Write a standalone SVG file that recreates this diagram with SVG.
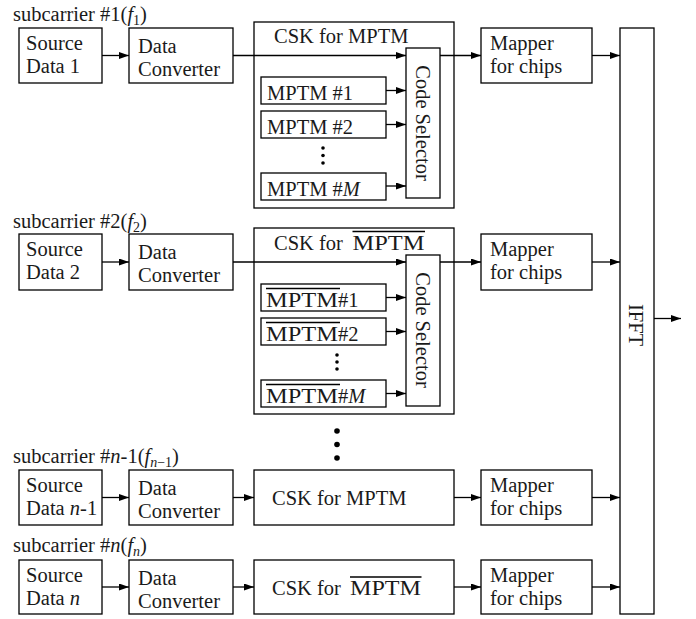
<svg xmlns="http://www.w3.org/2000/svg" width="696" height="619" viewBox="0 0 696 619">
<style>
rect{fill:#fff;stroke:#000;stroke-width:1.3}
text{font-family:"Liberation Serif","Times New Roman",serif;font-size:20.5px;fill:#1a1a1a}
.it{font-style:italic}
.sub{font-size:14px}
.ov{stroke:#000;stroke-width:1.3}
.con line{stroke:#000;stroke-width:1.3;marker-end:url(#ah)}
.dot{fill:#000}
</style>
<defs>
<marker id="ah" markerUnits="userSpaceOnUse" markerWidth="11" markerHeight="8" refX="10" refY="3.5" orient="auto">
<path d="M0,0 L10,3.5 L0,7 z" fill="#000"/>
</marker>
</defs>

<!-- Row 1 -->
<g id="label1"><text x="13" y="21">subcarrier #1(<tspan class="it">f</tspan><tspan class="sub" dy="4">1</tspan><tspan dy="-4">)</tspan></text></g>
<g id="src1"><rect x="19" y="28" width="83" height="55"/><text x="26" y="50">Source</text><text x="26" y="73">Data 1</text></g>
<g id="dc1"><rect x="129" y="28" width="104" height="55"/><text x="138" y="53">Data</text><text x="138" y="76">Converter</text></g>
<g id="csk1"><rect x="254" y="22" width="200" height="186"/><text x="274" y="43">CSK for MPTM</text>
<g id="m1_1"><rect x="261" y="77" width="125" height="27"/><text x="267" y="100">MPTM #1</text></g>
<g id="m1_2"><rect x="261" y="111" width="125" height="27"/><text x="267" y="134">MPTM #2</text></g>
<circle class="dot" cx="323" cy="148" r="1.8"/><circle class="dot" cx="323" cy="155.5" r="1.8"/><circle class="dot" cx="323" cy="163" r="1.8"/>
<g id="m1_M"><rect x="261" y="173" width="125" height="27"/><text x="267" y="196">MPTM #<tspan class="it">M</tspan></text></g>
<g id="cs1"><rect x="406" y="48" width="34" height="150"/><text transform="translate(416,123) rotate(90)" text-anchor="middle">Code Selector</text></g>
</g>
<g id="map1"><rect x="481" y="28" width="111" height="55"/><text x="490" y="50">Mapper</text><text x="490" y="73">for chips</text></g>

<!-- Row 2 -->
<g id="label2"><text x="13" y="228">subcarrier #2(<tspan class="it">f</tspan><tspan class="sub" dy="4">2</tspan><tspan dy="-4">)</tspan></text></g>
<g id="src2"><rect x="19" y="234" width="83" height="56"/><text x="26" y="256">Source</text><text x="26" y="279">Data 2</text></g>
<g id="dc2"><rect x="129" y="234" width="104" height="56"/><text x="138" y="259">Data</text><text x="138" y="282">Converter</text></g>
<g id="csk2"><rect x="254" y="228" width="200" height="186"/><text x="274" y="250">CSK for <tspan x="352.5" textLength="72" lengthAdjust="spacingAndGlyphs">MPTM</tspan></text><line class="ov" x1="352.5" y1="231.5" x2="425" y2="231.5"/>
<g id="m2_1"><rect x="261" y="284" width="125" height="27"/><text x="266" y="307"><tspan textLength="72" lengthAdjust="spacingAndGlyphs">MPTM</tspan>#1</text><line class="ov" x1="266" y1="288.5" x2="340" y2="288.5"/></g>
<g id="m2_2"><rect x="261" y="318" width="125" height="27"/><text x="266" y="341"><tspan textLength="72" lengthAdjust="spacingAndGlyphs">MPTM</tspan>#2</text><line class="ov" x1="266" y1="322.5" x2="340" y2="322.5"/></g>
<circle class="dot" cx="337" cy="355" r="1.8"/><circle class="dot" cx="337" cy="362" r="1.8"/><circle class="dot" cx="337" cy="369" r="1.8"/>
<g id="m2_M"><rect x="261" y="380" width="125" height="27"/><text x="266" y="403"><tspan textLength="72" lengthAdjust="spacingAndGlyphs">MPTM</tspan>#<tspan class="it">M</tspan></text><line class="ov" x1="266" y1="384.5" x2="340" y2="384.5"/></g>
<g id="cs2"><rect x="406" y="255" width="34" height="151"/><text transform="translate(416,330) rotate(90)" text-anchor="middle">Code Selector</text></g>
</g>
<g id="map2"><rect x="481" y="234" width="111" height="56"/><text x="490" y="256">Mapper</text><text x="490" y="279">for chips</text></g>

<!-- ellipsis between rows -->
<g id="vdots"><circle class="dot" cx="337" cy="431" r="2.8"/><circle class="dot" cx="337" cy="444.5" r="2.8"/><circle class="dot" cx="337" cy="458" r="2.8"/></g>

<!-- Row 3 -->
<g id="label3"><text x="13" y="463">subcarrier #<tspan class="it">n</tspan>-1(<tspan class="it">f</tspan><tspan class="sub" dy="4"><tspan class="it">n</tspan>−1</tspan><tspan dy="-4">)</tspan></text></g>
<g id="src3"><rect x="19" y="470" width="83" height="55"/><text x="26" y="492">Source</text><text x="26" y="515">Data <tspan class="it">n</tspan>-1</text></g>
<g id="dc3"><rect x="129" y="470" width="104" height="55"/><text x="138" y="495">Data</text><text x="138" y="518">Converter</text></g>
<g id="csk3"><rect x="254" y="470" width="200" height="55"/><text x="272" y="505">CSK for MPTM</text></g>
<g id="map3"><rect x="481" y="470" width="111" height="55"/><text x="490" y="492">Mapper</text><text x="490" y="515">for chips</text></g>

<!-- Row 4 -->
<g id="label4"><text x="13" y="552">subcarrier #<tspan class="it">n</tspan>(<tspan class="it">f</tspan><tspan class="sub it" dy="4">n</tspan><tspan dy="-4">)</tspan></text></g>
<g id="src4"><rect x="19" y="560" width="83" height="54"/><text x="26" y="582">Source</text><text x="26" y="605">Data <tspan class="it">n</tspan></text></g>
<g id="dc4"><rect x="129" y="560" width="104" height="54"/><text x="138" y="585">Data</text><text x="138" y="608">Converter</text></g>
<g id="csk4"><rect x="254" y="560" width="200" height="54"/><text x="272" y="595">CSK for <tspan x="350" textLength="71" lengthAdjust="spacingAndGlyphs">MPTM</tspan></text><line class="ov" x1="350" y1="577" x2="421.5" y2="577"/></g>
<g id="map4"><rect x="481" y="560" width="111" height="54"/><text x="490" y="582">Mapper</text><text x="490" y="605">for chips</text></g>

<!-- IFFT -->
<g id="ifft"><rect x="620" y="28" width="34" height="586"/><text transform="translate(629,325) rotate(90)" text-anchor="middle">IFFT</text></g>

<g id="connectors" class="con">
<line x1="102" y1="55.5" x2="129" y2="55.5"/>
<line x1="233" y1="55.5" x2="406" y2="55.5"/>
<line x1="440" y1="55.5" x2="481" y2="55.5"/>
<line x1="592" y1="55.5" x2="620" y2="55.5"/>
<line x1="386" y1="90.5" x2="406" y2="90.5"/>
<line x1="386" y1="124.5" x2="406" y2="124.5"/>
<line x1="386" y1="186" x2="406" y2="186"/>

<line x1="102" y1="262" x2="129" y2="262"/>
<line x1="233" y1="262" x2="406" y2="262"/>
<line x1="440" y1="262" x2="481" y2="262"/>
<line x1="592" y1="262" x2="620" y2="262"/>
<line x1="386" y1="297.5" x2="406" y2="297.5"/>
<line x1="386" y1="331.5" x2="406" y2="331.5"/>
<line x1="386" y1="393.5" x2="406" y2="393.5"/>

<line x1="102" y1="497.5" x2="129" y2="497.5"/>
<line x1="233" y1="497.5" x2="254" y2="497.5"/>
<line x1="454" y1="497.5" x2="481" y2="497.5"/>
<line x1="592" y1="497.5" x2="620" y2="497.5"/>

<line x1="102" y1="587" x2="129" y2="587"/>
<line x1="233" y1="587" x2="254" y2="587"/>
<line x1="454" y1="587" x2="481" y2="587"/>
<line x1="592" y1="587" x2="620" y2="587"/>

<line x1="654" y1="318.5" x2="681" y2="318.5"/>
</g>
</svg>
